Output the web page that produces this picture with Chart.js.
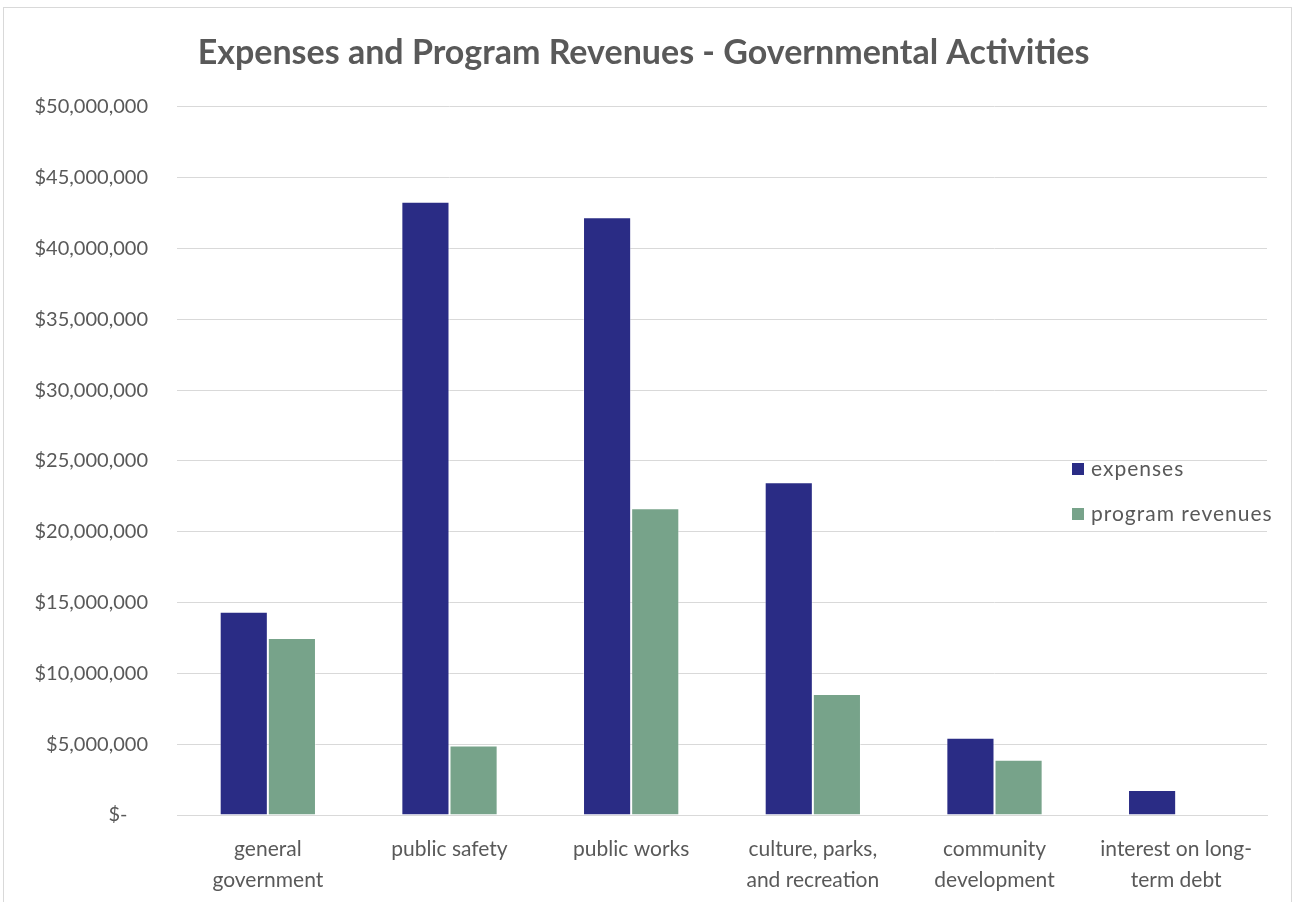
<!DOCTYPE html>
<html>
<head>
<meta charset="utf-8">
<script src="https://cdn.jsdelivr.net/npm/chart.js@4"></script>
<style>
  html, body { margin: 0; padding: 0; background: #fff; }
  #wrap { position: absolute; left: 0; top: 0; width: 1297px; height: 902px; }
  #frame { position: absolute; left: 3px; top: 7px; width: 1287px; height: 910px; border: 1px solid #d9d9d9; }
</style>
</head>
<body>
<div id="wrap">
  <div id="frame"></div>
  <canvas id="c" width="1297" height="902"></canvas>
</div>
<script>
// values (dollars)
const categories = [
  ['general', 'government'],
  'public safety',
  'public works',
  ['culture, parks,', 'and recreation'],
  ['community', 'development'],
  ['interest on long-', 'term debt']
];
const expenses        = [14350000, 43300000, 42200000, 23500000, 5450000, 1760000];
const programRevenues = [12500000,  4900000, 21650000,  8550000, 3900000, 0];
const yTicks = [0, 5000000, 10000000, 15000000, 20000000, 25000000, 30000000, 35000000, 40000000, 45000000, 50000000];

const EXP_COLOR = '#2a2c85';
const REV_COLOR = '#77a38a';
const TEXT = '#595959';
const FONT = 'Lato, "Open Sans", sans-serif';

// legend sits over the plot area on the right, like the original
const overlayLegend = {
  id: 'overlayLegend',
  afterDraw(chart) {
    const ctx = chart.ctx;
    const items = chart.data.datasets.map(d => ({ text: d.label, color: d.backgroundColor }));
    ctx.save();
    ctx.font = '21px ' + FONT;
    ctx.letterSpacing = '1px';
    ctx.textBaseline = 'middle';
    items.forEach((it, i) => {
      const y = 469 + i * 45;
      ctx.fillStyle = it.color;
      ctx.fillRect(1072, y - 6, 12, 12);
      ctx.fillStyle = TEXT;
      ctx.fillText(it.text, 1091, y);
    });
    ctx.restore();
  }
};

new Chart(document.getElementById('c'), {
  type: 'bar',
  data: {
    labels: categories,
    datasets: [
      { label: 'expenses', data: expenses, backgroundColor: EXP_COLOR,
        borderColor: 'rgba(255,255,255,0.4)', borderWidth: 1 },
      { label: 'program revenues', data: programRevenues, backgroundColor: REV_COLOR,
        borderColor: 'rgba(255,255,255,0.4)', borderWidth: 1 }
    ]
  },
  options: {
    responsive: false,
    animation: false,
    layout: { padding: { left: 20, right: 30, top: 0, bottom: 0 } },
    datasets: { bar: { categoryPercentage: 0.53, barPercentage: 1.0 } },
    scales: {
      x: {
        grid: { display: false },
        border: { color: '#d9d9d9', width: 1 },
        ticks: { color: TEXT, font: { family: FONT, size: 21, lineHeight: 1.5 }, padding: 10, maxRotation: 0, autoSkip: false },
        afterFit: s => { s.height = 87; }
      },
      y: {
        min: 0, max: 50000000,
        afterBuildTicks: s => { s.ticks = yTicks.map(v => ({ value: v })); },
        grid: { color: '#d9d9d9', drawTicks: false },
        border: { display: false },
        ticks: {
          color: TEXT, font: { family: FONT, size: 20 }, padding: 29,
          callback: v => v === 0 ? '$-    ' : '$' + v.toLocaleString('en-US')
        },
        afterFit: s => { s.width = 157; }
      }
    },
    plugins: {
      legend: { display: false },
      tooltip: { enabled: false },
      title: {
        display: true,
        text: 'Expenses and Program Revenues - Governmental Activities',
        color: TEXT,
        font: { family: FONT, size: 34, weight: 'bold' },
        padding: { top: 33, bottom: 33 }
      }
    }
  },
  plugins: [overlayLegend]
});
</script>
</body>
</html>
